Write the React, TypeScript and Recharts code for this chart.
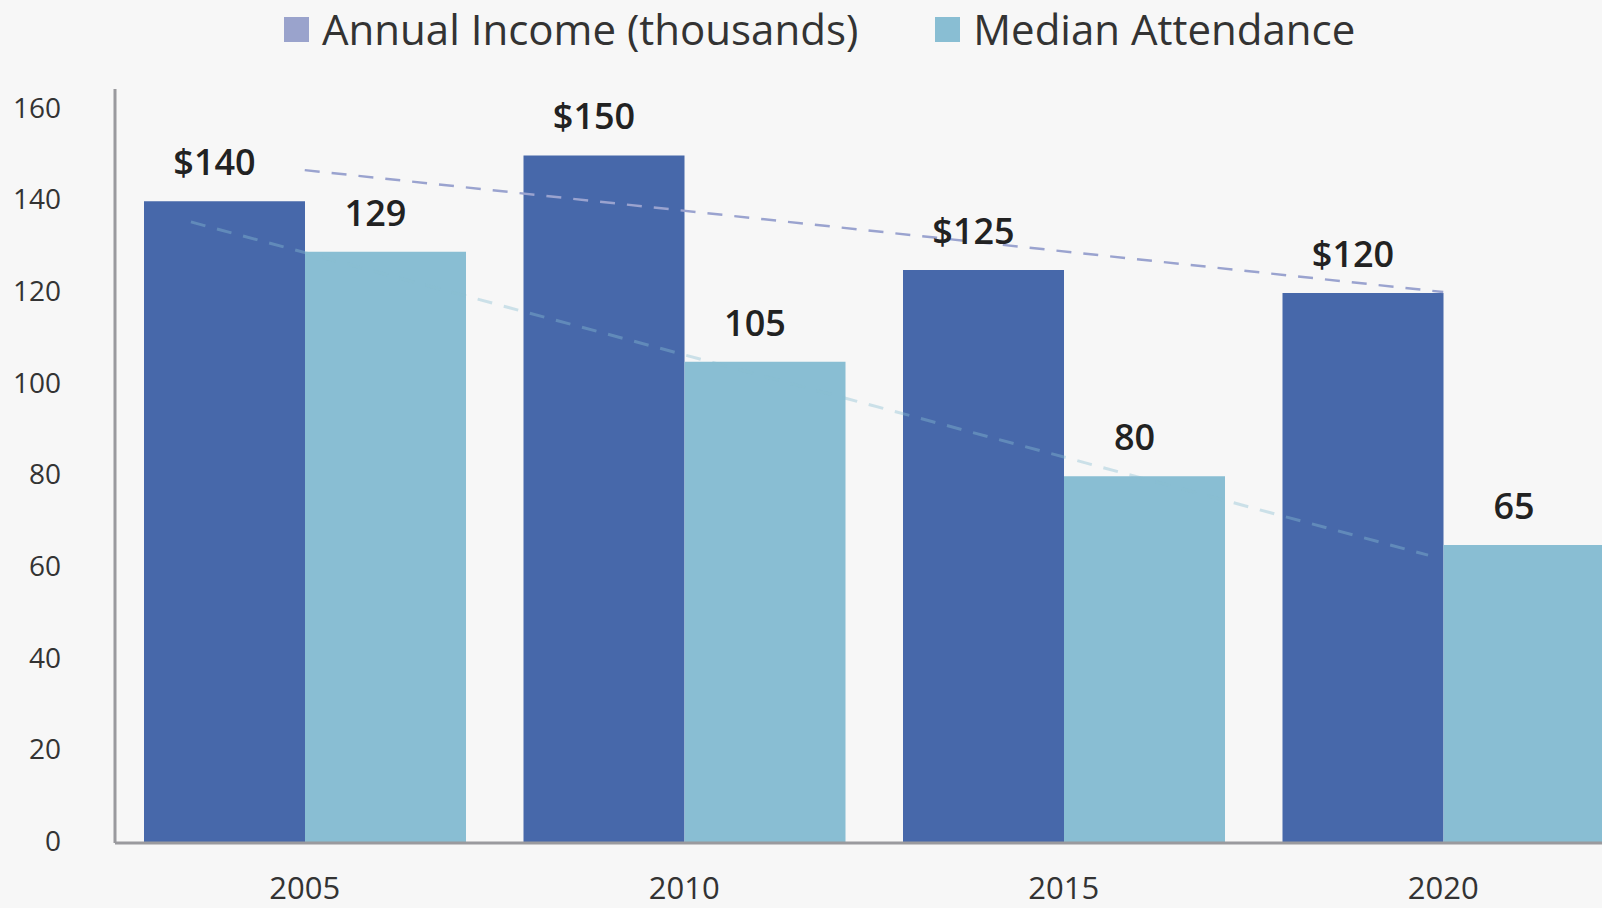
import { ComposedChart, Bar, Line, XAxis, YAxis, LabelList } from 'recharts';

const years = ['2005', '2010', '2015', '2020'];
const annualIncome = [140, 150, 125, 120];
const medianAttendance = [129, 105, 80, 65];
const yTicks = [0, 20, 40, 60, 80, 100, 120, 140, 160];

// dashed trend lines, x in category units (0..4 across the plot)
const incomeTrendX = [0.5, 3.5];
const incomeTrendY = [146.8, 120.2];
const attendanceTrendX = [0.2, 3.46];
const attendanceTrendY = [135.5, 62.8];

const seriesNames = ['Annual Income (thousands)', 'Median Attendance'];

const DARK = '#4768aa';
const LIGHT = '#89bed3';
const LEGEND_COLORS = ['#9aa3cc', LIGHT];
const AXIS = '#9a9a9e';

const data = years.map((year, i) => ({
  year,
  income: annualIncome[i],
  attendance: medianAttendance[i],
}));

const incomeTrend = incomeTrendX.map((x, i) => ({ x, y: incomeTrendY[i] }));
const attendanceTrend = attendanceTrendX.map((x, i) => ({ x, y: attendanceTrendY[i] }));

export default function App() {
  return (
    <div
      style={{
        position: 'absolute',
        left: 0,
        top: 0,
        width: 1602,
        height: 908,
        overflow: 'hidden',
        background: '#f7f7f7',
        fontFamily: '"Open Sans", sans-serif',
      }}
    >
      {/* legend */}
      <div
        style={{
          position: 'absolute',
          left: 284,
          top: 0,
          height: 58,
          display: 'flex',
          alignItems: 'center',
          gap: 77,
        }}
      >
        {seriesNames.map((name, i) => (
          <div key={name} style={{ display: 'flex', alignItems: 'center' }}>
            <div style={{ width: 25, height: 25, background: LEGEND_COLORS[i], marginRight: 13 }} />
            <span style={{ fontSize: 42, lineHeight: '42px', color: '#333' }}>{name}</span>
          </div>
        ))}
      </div>

      <ComposedChart
        width={1633}
        height={908}
        data={data}
        barGap={0}
        margin={{ top: 89, right: 0, bottom: 0, left: 0 }}
      >
        <XAxis
          dataKey="year"
          height={65}
          axisLine={{ stroke: AXIS, strokeWidth: 3 }}
          tickLine={false}
          tickSize={0}
          tickMargin={34}
          tick={{ fontSize: 31, fill: '#333' }}
        />
        <XAxis xAxisId="trend" type="number" dataKey="x" domain={[0, 4]} allowDataOverflow hide />
        <YAxis
          width={115}
          domain={[0, 164.5]}
          ticks={yTicks}
          allowDataOverflow
          axisLine={{ stroke: AXIS, strokeWidth: 3 }}
          tickLine={false}
          tickSize={0}
          tickMargin={54}
          tick={{ fontSize: 28, fill: '#333', dy: -2 }}
        />

        <Line
          xAxisId="trend"
          data={incomeTrend}
          dataKey="y"
          stroke="#9aa3cf"
          strokeWidth={2.5}
          strokeDasharray="15 12"
          dot={false}
          activeDot={false}
          isAnimationActive={false}
        />

        <Bar dataKey="income" fill={DARK} barSize={161} isAnimationActive={false}>
          <LabelList
            dataKey="income"
            position="top"
            offset={26}
            dx={-10}
            formatter={(v: number) => `$${v}`}
            style={{ fontSize: 36, fontWeight: 600, fill: '#222' }}
          />
        </Bar>
        <Bar dataKey="attendance" fill={LIGHT} barSize={161} isAnimationActive={false}>
          <LabelList
            dataKey="attendance"
            position="top"
            offset={26}
            dx={-10}
            style={{ fontSize: 36, fontWeight: 600, fill: '#222' }}
          />
        </Bar>

        <Line
          xAxisId="trend"
          data={attendanceTrend}
          dataKey="y"
          stroke={LIGHT}
          strokeOpacity={0.4}
          strokeWidth={3}
          strokeDasharray="15 12"
          dot={false}
          activeDot={false}
          isAnimationActive={false}
        />
      </ComposedChart>
    </div>
  );
}
